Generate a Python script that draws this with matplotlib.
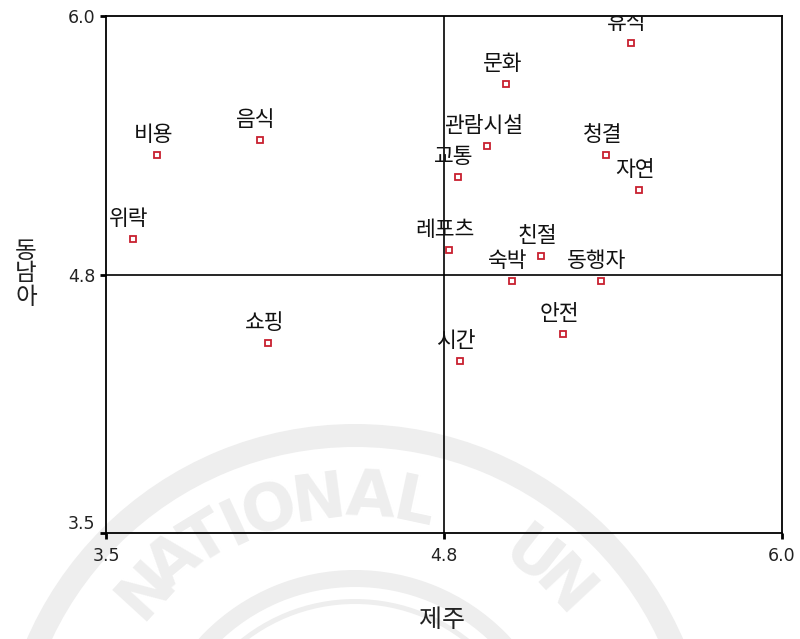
import matplotlib
matplotlib.use("Agg")
import matplotlib.pyplot as plt
from matplotlib.patches import Wedge
import numpy as np

# ---- data ----
categories = ["비용", "음식", "위락", "쇼핑", "휴식", "문화", "관람시설", "교통",
              "청결", "자연", "레포츠", "친절", "숙박", "동행자", "안전", "시간"]
jeju = [3.69, 4.07, 3.60, 4.10, 5.44, 4.98, 4.91, 4.80,
        5.35, 5.47, 4.77, 5.11, 5.00, 5.33, 5.19, 4.81]
sea = [5.33, 5.40, 4.92, 4.42, 5.87, 5.67, 5.37, 5.22,
       5.33, 5.16, 4.87, 4.84, 4.72, 4.72, 4.46, 4.33]
x_ticks = [3.5, 4.75, 6.0]
x_tick_labels = ["3.5", "4.8", "6.0"]
y_ticks = [3.5, 4.75, 6.0]
y_tick_labels = ["3.5", "4.8", "6.0"]
ref_x = 4.75
ref_y = 4.75
x_label = "제주"
y_label = "동남아"

KR = ["Noto Sans CJK KR", "DejaVu Sans"]
W, H = 800, 639
fig = plt.figure(figsize=(W / 100, H / 100), dpi=100)
fig.patch.set_facecolor("white")

# ---- faint background seal watermark ----
bg = fig.add_axes([0, 0, 1, 1], zorder=0)
bg.set_xlim(0, W)
bg.set_ylim(H, 0)
bg.axis("off")
wm = "#eeeeee"
cx, cy = 355, 782
for r_out, wdt in [(358, 23), (212, 17), (183, 5)]:
    bg.add_patch(Wedge((cx, cy), r_out, 0, 360, width=wdt, facecolor=wm, edgecolor="none"))
letters = list("NATIONAL") + list("UN")
angles = [-47.5, -39.5, -31.5, -25, -17.5, -7.5, 3, 12, 38, 47]
for ch, th in zip(letters, angles):
    t = np.deg2rad(th)
    r = 284
    bg.text(cx + r * np.sin(t), cy - r * np.cos(t), ch, rotation=-th,
            rotation_mode="anchor", ha="center", va="center",
            fontsize=46, fontweight="bold", family="DejaVu Sans", color=wm)

# ---- main axes ----
left, right, top, bottom = 106, 782, 16, 533
ax = fig.add_axes([left / W, 1 - bottom / H, (right - left) / W, (bottom - top) / H], zorder=1)
ax.set_facecolor("none")
ax.set_xlim(3.5, 6.0)
ax.set_ylim(3.5, 6.0)
for s in ax.spines.values():
    s.set_linewidth(1.3)
    s.set_color("black")
ax.axvline(ref_x, color="black", lw=1.2, zorder=1)
ax.axhline(ref_y, color="black", lw=1.2, zorder=1)

ax.set_xticks(x_ticks)
ax.set_xticklabels(x_tick_labels)
ax.set_yticks(y_ticks)
ax.set_yticklabels(y_tick_labels)
ax.tick_params(axis="both", direction="out", length=4, width=2, color="black",
               labelsize=12.5, labelcolor="#222222")
ax.tick_params(axis="x", pad=6)
ax.tick_params(axis="y", pad=3.5)
ax.get_yticklabels()[0].set_va("bottom")

ax.plot(jeju, sea, linestyle="none", marker="s", markersize=5,
        markerfacecolor="white", markeredgecolor="#c8202f", markeredgewidth=1.3, zorder=3)
for name, xv, yv in zip(categories, jeju, sea):
    a = ax.annotate(name, (xv, yv), xytext=(-4, 9), textcoords="offset pixels",
                    ha="center", va="bottom", fontsize=15.5, family=KR, color="#111111",
                    zorder=4, annotation_clip=True)
    a.set_clip_on(True)
    a.set_clip_box(ax.bbox)

fig.text(442 / W, 1 - 620 / H, x_label, ha="center", va="center",
         fontsize=18, family=KR, color="#222222")
fig.text(26 / W, 1 - 274 / H, "\n".join(y_label), ha="center", va="center",
         fontsize=17, family=KR, color="#222222", linespacing=1.0)

fig.savefig("out.png", dpi=100, facecolor="white")
